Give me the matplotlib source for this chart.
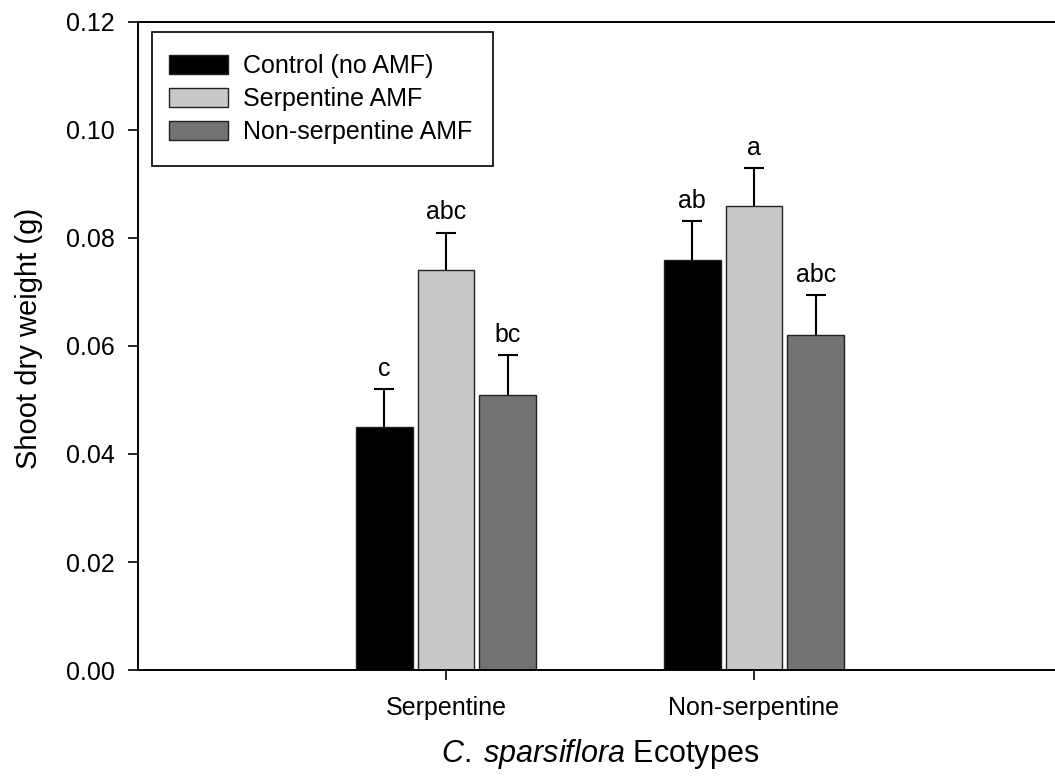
import numpy as np
import matplotlib
matplotlib.use("Agg")
import matplotlib.pyplot as plt
from matplotlib.patches import Rectangle

plt.rcParams['font.family'] = ['Liberation Sans', 'DejaVu Sans']
plt.rcParams['mathtext.fontset'] = 'custom'
plt.rcParams['mathtext.rm'] = 'Liberation Sans'
plt.rcParams['mathtext.it'] = 'Liberation Sans:italic'

ecotypes = ["Serpentine", "Non-serpentine"]
treatments = ["Control (no AMF)", "Serpentine AMF", "Non-serpentine AMF"]
# mean shoot dry weight (g) per treatment, one entry per ecotype
means = {
    "Control (no AMF)": [0.045, 0.076],
    "Serpentine AMF": [0.074, 0.086],
    "Non-serpentine AMF": [0.051, 0.062],
}
errors = {
    "Control (no AMF)": [0.007, 0.0072],
    "Serpentine AMF": [0.007, 0.007],
    "Non-serpentine AMF": [0.0073, 0.0074],
}
letters = {
    "Control (no AMF)": ["c", "ab"],
    "Serpentine AMF": ["abc", "a"],
    "Non-serpentine AMF": ["bc", "abc"],
}
yticks = [0.00, 0.02, 0.04, 0.06, 0.08, 0.10, 0.12]

colors = ["#000000", "#c8c8c8", "#737373"]
FS = 18
YLABEL_FS = 21
XLABEL_FS = 22

W, H = 1055, 780
fig = plt.figure(figsize=(W / 100, H / 100), dpi=100)
ax = fig.add_axes([138 / W, 1 - 670 / H, 924 / W, 648 / H])

x = np.arange(len(ecotypes))
step = 0.201
width = 0.185
for i, (name, col) in enumerate(zip(treatments, colors)):
    pos = x + (i - 1) * step
    ax.bar(pos, means[name], width, color=col, edgecolor="#202020",
           linewidth=1.0, label=name, zorder=2)
    eb = ax.errorbar(pos, means[name], yerr=[np.zeros(len(x)), errors[name]],
                     fmt="none", ecolor="black", elinewidth=1.5, capsize=7,
                     capthick=1.5, zorder=1)
    # upper whiskers only: hide the caps sitting on the bar tops
    for cap in eb[1]:
        if np.allclose(cap.get_ydata(), means[name]):
            cap.set_visible(False)
    for p, m, e, t in zip(pos, means[name], errors[name], letters[name]):
        ax.annotate(t, (p, m + e), xytext=(0, 9.5), textcoords="offset points",
                    ha="center", va="baseline", fontsize=FS)

ax.set_xlim(-1, 2)
ax.set_ylim(0, 0.12)
ax.set_yticks(yticks)
ax.set_yticklabels([f"{v:.2f}" for v in yticks])
ax.set_xticks(x)
ax.set_xticklabels(ecotypes)
ax.tick_params(axis="both", direction="out", length=7, width=1.2,
               labelsize=FS, color="black")
ax.tick_params(axis="y", pad=10)
ax.tick_params(axis="x", pad=12)
for s in ["left", "bottom", "top"]:
    ax.spines[s].set_linewidth(1.4)
ax.spines["right"].set_visible(False)

ax.set_ylabel("Shoot dry weight (g)", fontsize=YLABEL_FS, labelpad=16)
ax.yaxis.label.set_y(0.512)
ax.set_xlabel(r"$\mathit{C.}\;\mathit{sparsiflora}$ Ecotypes", fontsize=XLABEL_FS,
              labelpad=12)

# legend entries without a frame; the box is drawn separately so the
# vertical padding can be larger than the horizontal one
pad_l, pad_r, pad_t, pad_b = 17, 21, 22, 22
box_left, box_top = 14, 10   # offset of the box from the axes corner (px)
anchor = ax.transAxes.inverted().transform(
    ax.transAxes.transform((0, 1)) + np.array([box_left + pad_l, -(box_top + pad_t)]))
leg = ax.legend(loc="upper left", bbox_to_anchor=tuple(anchor),
                borderaxespad=0, fontsize=FS, frameon=False,
                handlelength=2.35, handleheight=0.76,
                handletextpad=0.6, labelspacing=0.36, borderpad=0)
leg.set_zorder(6)
fig.canvas.draw()
bb = leg.get_window_extent()
inv = ax.transAxes.inverted()
(bx0, by0) = inv.transform((bb.x0 - pad_l, bb.y0 - pad_b))
(bx1, by1) = inv.transform((bb.x1 + pad_r, bb.y1 + pad_t))
ax.add_patch(Rectangle((bx0, by0), bx1 - bx0, by1 - by0, transform=ax.transAxes,
                       facecolor="white", edgecolor="black", linewidth=1.2,
                       zorder=5, clip_on=False))

fig.savefig("out.png", dpi=100)
